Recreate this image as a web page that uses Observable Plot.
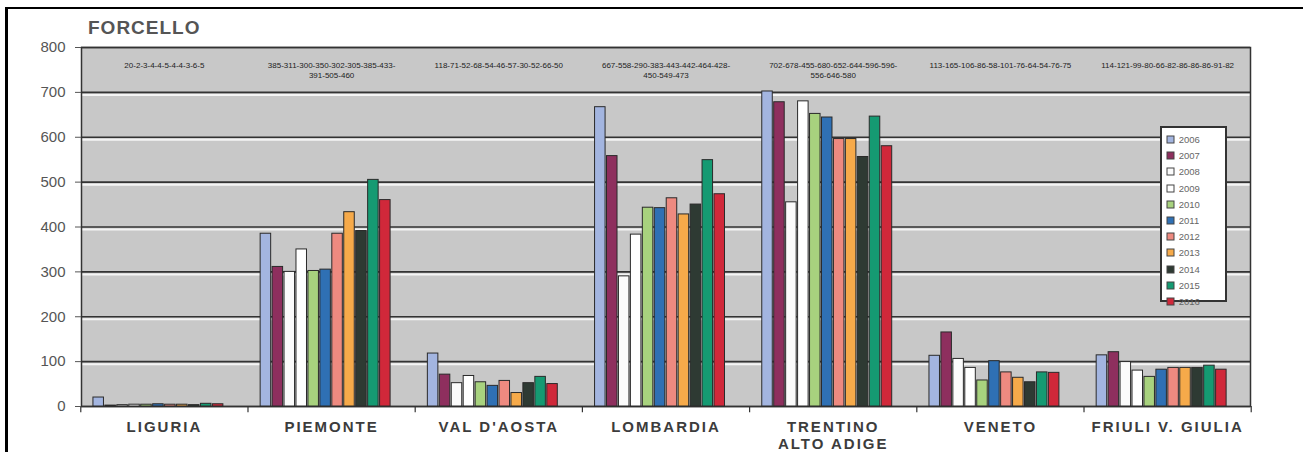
<!DOCTYPE html>
<html><head><meta charset="utf-8">
<script src="https://cdn.jsdelivr.net/npm/d3@7"></script>
<script src="https://cdn.jsdelivr.net/npm/@observablehq/plot@0.6"></script>
<style>
body{margin:0;background:#fff;font-family:"Liberation Sans",Arial,sans-serif;}
#wrap{position:relative;width:1303px;height:452px;overflow:hidden;}
#border{position:absolute;left:5px;top:7px;right:-5px;bottom:-5px;border-left:3px solid #000;border-top:2px solid #000;pointer-events:none;}
#title{position:absolute;left:88px;top:17px;font:bold 19px "Liberation Sans",Arial,sans-serif;color:#555;letter-spacing:1px;}
#chart{position:absolute;left:0;top:0;}
#legend{position:absolute;left:1160px;top:126px;width:67px;height:176px;background:#fff;border:2px solid #333;box-sizing:border-box;padding:4px 0 0 5px;}
#legend [class$="-swatch"]{height:15.2px;line-height:15.2px;margin:0 !important;}
#legend div{font-size:9.5px;color:#666;font-family:"Liberation Sans",Arial,sans-serif;}
#legend svg rect{stroke:#444;stroke-width:1px;}
#chart .region-label text{letter-spacing:2px;}
</style></head>
<body>
<div id="wrap">
  <div id="chart"></div>
  <div id="title">FORCELLO</div>
  <div id="legend"></div>
  <div id="border"></div>
</div>
<script>
const regions = ["LIGURIA", "PIEMONTE", "VAL D'AOSTA", "LOMBARDIA", "TRENTINO\nALTO ADIGE", "VENETO", "FRIULI V. GIULIA"];
const years = ["2006", "2007", "2008", "2009", "2010", "2011", "2012", "2013", "2014", "2015", "2016"];
const yTicks = [0, 100, 200, 300, 400, 500, 600, 700, 800];

const liguria    = [20, 2, 3, 4, 4, 5, 4, 4, 3, 6, 5];
const piemonte   = [385, 311, 300, 350, 302, 305, 385, 433, 391, 505, 460];
const valDAosta  = [118, 71, 52, 68, 54, 46, 57, 30, 52, 66, 50];
const lombardia  = [667, 558, 290, 383, 443, 442, 464, 428, 450, 549, 473];
const trentino   = [702, 678, 455, 680, 652, 644, 596, 596, 556, 646, 580];
const veneto     = [113, 165, 106, 86, 58, 101, 76, 64, 54, 76, 75];
const friuli     = [114, 121, 99, 80, 66, 82, 86, 86, 86, 91, 82];

const colors = ["#a3b5e0", "#8e2f5e", "#fbfbfb", "#ffffff", "#a8d27e", "#2f70b4", "#ee8a80", "#f6aa4a", "#2e3a33", "#159a72", "#d0283a"];

const series = [liguria, piemonte, valDAosta, lombardia, trentino, veneto, friuli];
const key = (r, y) => r + "|" + y;
const data = regions.flatMap((r, i) => years.map((y, j) => ({region: r, year: y, value: series[i][j]})));
const labels = regions.map((r, i) => {
  const v = series[i];
  const s = v.join("-");
  return {region: r, text: s.length > 36 ? v.slice(0, 8).join("-") + "-\n" + v.slice(8).join("-") : s};
});

// band domain: one spacer before and two after each region's group of years
const keys = regions.flatMap(r => [key(r, "L"), ...years.map(y => key(r, y)), key(r, "R1"), key(r, "R2")]);
const midYear = years[5];

const W = 1303, H = 452, ml = 81, mr = 53, mt = 47, mb = 46, pad = 0.12;
const step = (W - ml - mr) / (keys.length - pad);
const last = regions[regions.length - 1];

const chart = Plot.plot({
  width: W, height: H,
  marginLeft: ml, marginRight: mr, marginTop: mt, marginBottom: mb,
  style: {background: "transparent", fontFamily: "Liberation Sans, Arial, sans-serif", overflow: "visible"},
  x: {domain: keys, paddingInner: pad, paddingOuter: 0, axis: null},
  y: {domain: [0, 800], label: null},
  color: {domain: years, range: colors},
  marks: [
    Plot.frame({fill: "#c8c8c8", stroke: "none"}),
    Plot.ruleY(yTicks.filter(t => t > 0 && t < 800), {stroke: "#f4f4f4", strokeWidth: 2, dy: 2.5}),
    Plot.ruleY(yTicks, {stroke: "#333", strokeWidth: 1.6}),
    Plot.frame({stroke: "#333", strokeWidth: 1.5}),
    Plot.text(labels, {x: d => key(d.region, midYear), dx: step / 2, text: "text", frameAnchor: "top", dy: 13, fontSize: 8, fill: "#222", lineHeight: 1.3}),
    Plot.barY(data, {x: d => key(d.region, d.year), y: "value", fill: "year", stroke: "#2a2a2a", strokeWidth: 1}),
    Plot.ruleX(regions, {x: r => key(r, "L"), dx: -step / 2, y1: 0, y2: -14, stroke: "#333", strokeWidth: 1.2}),
    Plot.ruleX([last], {x: r => key(r, "R2"), dx: step / 2, y1: 0, y2: -14, stroke: "#333", strokeWidth: 1.2}),
    Plot.axisY({ticks: yTicks, tickSize: 6, tickPadding: 10, fontSize: 15, color: "#555", label: null, tickFormat: d => d}),
    Plot.text(regions, {x: r => key(r, midYear), y: () => 0, dx: step / 2, dy: 14, lineAnchor: "top", text: r => r, fontSize: 15, fontWeight: "bold", fill: "#3c3c3c", lineHeight: 1.1, className: "region-label"})
  ]
});
document.getElementById("chart").append(chart);

const leg = Plot.legend({
  color: {domain: years, range: colors},
  legend: "swatches", columns: 1, swatchSize: 7,
  style: {fontSize: "9.5px", color: "#666"}
});
document.getElementById("legend").append(leg);
</script>
</body></html>
